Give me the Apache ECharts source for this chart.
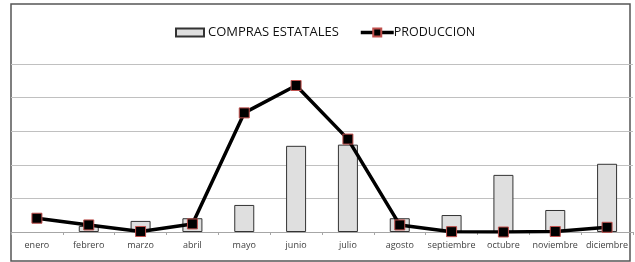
<!DOCTYPE html>
<html>
<head>
<meta charset="utf-8">
<script src="https://cdn.jsdelivr.net/npm/echarts@6/dist/echarts.min.js"></script>
<style>
  html, body { margin: 0; padding: 0; background: #fff; }
  #chart { width: 635px; height: 262px; }
</style>
</head>
<body>
<div id="chart"></div>
<script>
// months on the x axis
const meses = ["enero", "febrero", "marzo", "abril", "mayo", "junio", "julio",
  "agosto", "septiembre", "octubre", "noviembre", "diciembre"];
// bar series (axis hidden so units are relative)
const comprasEstatales = [0, 3.6, 6.6, 8.2, 16.1, 51.3, 52, 8.2, 10.1, 34, 13.1, 40.6];
// line series
const produccion = [8.2, 4.2, 0.3, 4.8, 70.9, 87.2, 55.3, 4.2, 0.2, 0, 0.3, 2.8];

const chart = echarts.init(document.getElementById("chart"), null, { renderer: "canvas" });

const option = {
  animation: false,
  textStyle: { fontFamily: "Open Sans" },
  graphic: [
    {
      type: "rect",
      shape: { x: 11, y: 4, width: 619, height: 257 },
      style: { fill: "none", stroke: "#555", lineWidth: 1.5 },
      silent: true,
      z: 0
    }
  ],
  legend: [
    {
      data: [{ name: "COMPRAS ESTATALES", icon: "rect" }],
      left: 170,
      top: 21,
      itemWidth: 28,
      itemHeight: 8,
      itemGap: 4,
      textStyle: { fontSize: 13, color: "#111", padding: [0, 0, 0, -1] }
    },
    {
      data: ["PRODUCCION"],
      left: 354,
      top: 21,
      itemWidth: 33,
      itemHeight: 10,
      lineStyle: { width: 3.5, color: "#000" },
      textStyle: { fontSize: 12.5, color: "#111", padding: [0, 0, 0, -5] }
    }
  ],
  grid: { left: 11, right: 2, top: 64, bottom: 30 },
  xAxis: {
    type: "category",
    data: meses,
    axisLine: { lineStyle: { color: "#a6a6a6" } },
    axisTick: { show: true, length: 3, lineStyle: { color: "#a6a6a6" } },
    axisLabel: { fontSize: 9, color: "#404040", margin: 9, interval: 0 }
  },
  yAxis: {
    type: "value",
    min: 0,
    max: 100,
    interval: 20,
    axisLabel: { show: false },
    axisLine: { show: false },
    axisTick: { show: false },
    splitLine: { lineStyle: { color: "#c0c0c0", width: 1 } }
  },
  series: [
    {
      name: "COMPRAS ESTATALES",
      type: "bar",
      // a zero month has no bar at all in the original
      data: comprasEstatales.map(v => (v === 0 ? "-" : v)),
      barWidth: 20,
      itemStyle: { color: "#dfdfdf", borderColor: "#333", borderWidth: 1 }
    },
    {
      name: "PRODUCCION",
      type: "line",
      data: produccion,
      symbol: "rect",
      symbolSize: 10,
      showAllSymbol: true,
      lineStyle: { color: "#000", width: 3.5 },
      itemStyle: { color: "#000", borderColor: "#c0504d", borderWidth: 1 },
      z: 3
    }
  ]
};

chart.setOption(option);
</script>
</body>
</html>
